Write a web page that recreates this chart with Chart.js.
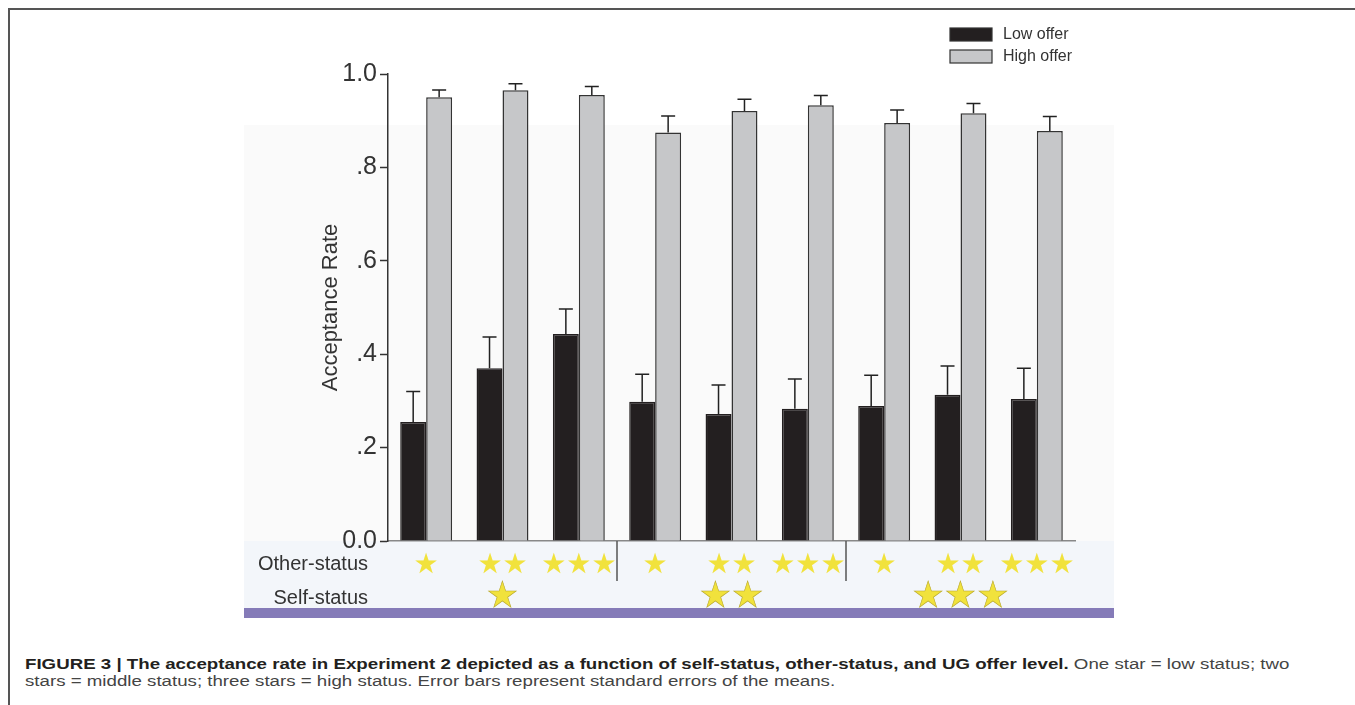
<!DOCTYPE html>
<html>
<head>
<meta charset="utf-8">
<title>Acceptance rate - Experiment 2</title>
<script src="https://cdn.jsdelivr.net/npm/chart.js@4.4.1/dist/chart.umd.min.js"></script>
<style>
    body { margin: 0; background: #ffffff; font-family: "Liberation Sans", Arial, sans-serif; }
    #frame { position: absolute; left: 8px; top: 8px; width: 1347px; height: 697px;
             border-top: 2px solid #555; border-left: 2px solid #555; }
    #chartBox { position: absolute; left: 0; top: 0; width: 1355px; height: 630px; }
    #caption { position: absolute; left: 25px; top: 655px; width: 1320px; white-space: nowrap;
               font-size: 18.7px; line-height: 22px; color: #444;
               transform: scaleY(0.8); transform-origin: left top; }
    #caption b { color: #231f20; }
</style>
</head>
<body>
<div id="frame"></div>
<div id="chartBox"><canvas id="acceptanceChart" width="1355" height="630"></canvas></div>
<div id="caption"><b>FIGURE 3 | The acceptance rate in Experiment 2 depicted as a function of self-status, other-status, and UG offer level.</b> One star = low status; two<br>stars = middle status; three stars = high status. Error bars represent standard errors of the means.</div>

<script>
// status levels (number of stars) for each bar pair
const selfStatus = [1, 1, 1, 2, 2, 2, 3, 3, 3];
const otherStatus = [1, 2, 3, 1, 2, 3, 1, 2, 3];

// mean acceptance rate and standard error per condition
const lowOffer = [0.255, 0.370, 0.443, 0.298, 0.272, 0.283, 0.289, 0.313, 0.304];
const lowOfferSE = [0.065, 0.067, 0.054, 0.059, 0.062, 0.064, 0.066, 0.062, 0.066];
const highOffer = [0.950, 0.965, 0.955, 0.875, 0.921, 0.933, 0.895, 0.916, 0.878];
const highOfferSE = [0.016, 0.014, 0.018, 0.035, 0.025, 0.021, 0.028, 0.021, 0.031];

const yTickLabels = ['0.0', '.2', '.4', '.6', '.8', '1.0'];
const seriesNames = ['Low offer', 'High offer'];

document.addEventListener('DOMContentLoaded', function () {
    const labels = selfStatus.map((s, i) => `Self ${s} / Other ${otherStatus[i]}`);
    const starFont = '"DejaVu Sans", sans-serif';
    const textFont = '"Liberation Sans", Arial, sans-serif';

    // light panels behind the plot and the star rows
    const backgroundPlugin = {
        id: 'panels',
        beforeDraw(chart) {
            const ctx = chart.ctx;
            ctx.save();
            ctx.fillStyle = '#fafafa';
            ctx.fillRect(244, 125, 870, 416);
            ctx.fillStyle = '#f3f6fa';
            ctx.fillRect(244, 541, 870, 67);
            ctx.fillStyle = '#857bb8';
            ctx.fillRect(244, 608, 870, 10);
            ctx.restore();
        }
    };

    // upward error bars with caps
    const errorBarPlugin = {
        id: 'errorBars',
        afterDatasetsDraw(chart) {
            const ctx = chart.ctx;
            const y = chart.scales.y;
            const errors = [lowOfferSE, highOfferSE];
            ctx.save();
            ctx.strokeStyle = '#222';
            ctx.lineWidth = 1.5;
            chart.data.datasets.forEach((ds, d) => {
                chart.getDatasetMeta(d).data.forEach((bar, i) => {
                    const top = y.getPixelForValue(ds.data[i] + errors[d][i]);
                    const base = y.getPixelForValue(ds.data[i]);
                    ctx.beginPath();
                    ctx.moveTo(bar.x, base);
                    ctx.lineTo(bar.x, top);
                    ctx.moveTo(bar.x - 7, top);
                    ctx.lineTo(bar.x + 7, top);
                    ctx.stroke();
                });
            });
            ctx.restore();
        }
    };

    // self-status stars, separators, row names and legend
    const annotationPlugin = {
        id: 'annotations',
        afterDraw(chart) {
            const ctx = chart.ctx;
            const x = chart.scales.x;
            const area = chart.chartArea;
            ctx.save();

            // separators between self-status sets
            ctx.strokeStyle = '#555';
            ctx.lineWidth = 1.5;
            for (let i = 1; i < selfStatus.length; i++) {
                if (selfStatus[i] !== selfStatus[i - 1]) {
                    const sx = (x.getPixelForValue(i - 1) + x.getPixelForValue(i)) / 2;
                    ctx.beginPath();
                    ctx.moveTo(sx, area.bottom);
                    ctx.lineTo(sx, area.bottom + 40);
                    ctx.stroke();
                }
            }

            // one group of big stars under the middle of each set
            ctx.font = `36px ${starFont}`;
            ctx.textAlign = 'center';
            ctx.textBaseline = 'middle';
            ctx.fillStyle = '#f1e23c';
            ctx.strokeStyle = '#b9a92e';
            ctx.lineWidth = 0.6;
            let start = 0;
            for (let i = 1; i <= selfStatus.length; i++) {
                if (i === selfStatus.length || selfStatus[i] !== selfStatus[start]) {
                    const cx = (x.getPixelForValue(start) + x.getPixelForValue(i - 1)) / 2;
                    const stars = '★'.repeat(selfStatus[start]);
                    ctx.fillText(stars, cx, area.bottom + 57);
                    ctx.strokeText(stars, cx, area.bottom + 57);
                    start = i;
                }
            }

            // row names
            ctx.font = `20px ${textFont}`;
            ctx.fillStyle = '#333';
            ctx.textAlign = 'right';
            ctx.fillText('Other-status', 368, area.bottom + 23);
            ctx.fillText('Self-status', 368, area.bottom + 57);

            // legend
            const legendX = 950;
            chart.data.datasets.forEach((ds, d) => {
                const ly = 28 + d * 22;
                ctx.fillStyle = ds.backgroundColor;
                ctx.fillRect(legendX, ly, 42, 13);
                ctx.strokeStyle = '#333';
                ctx.lineWidth = 1.2;
                ctx.strokeRect(legendX, ly, 42, 13);
                ctx.fillStyle = '#333';
                ctx.font = `16px ${textFont}`;
                ctx.textAlign = 'left';
                ctx.fillText(ds.label, legendX + 53, ly + 7);
            });
            ctx.restore();
        }
    };

    const ctx = document.getElementById('acceptanceChart').getContext('2d');
    new Chart(ctx, {
        type: 'bar',
        data: {
            labels: labels,
            datasets: [{
                label: seriesNames[0],
                data: lowOffer,
                backgroundColor: '#231f20',
                borderColor: '#231f20',
                borderWidth: 1.5
            }, {
                label: seriesNames[1],
                data: highOffer,
                backgroundColor: '#c6c7c9',
                borderColor: '#333',
                borderWidth: 1.5
            }]
        },
        options: {
            responsive: false,
            animation: false,
            layout: {
                padding: { left: 318, right: 280, top: 74, bottom: 49 }
            },
            datasets: {
                bar: { categoryPercentage: 0.68, barPercentage: 1.0 }
            },
            plugins: {
                legend: { display: false },
                title: { display: false },
                tooltip: { enabled: false }
            },
            scales: {
                x: {
                    afterFit: (scale) => { scale.height = 40; },
                    grid: { display: false, drawTicks: false },
                    border: { display: true, color: '#888', width: 1.5 },
                    ticks: {
                        padding: 8,
                        autoSkip: false,
                        maxRotation: 0,
                        color: '#f1e23c',
                        font: { family: starFont, size: 28 },
                        callback: (value, index) => '★'.repeat(otherStatus[index])
                    }
                },
                y: {
                    min: 0,
                    max: 1,
                    afterFit: (scale) => { scale.width = 70; },
                    grid: { drawOnChartArea: false, tickLength: 8, color: '#333', tickWidth: 1.5 },
                    border: { display: true, color: '#333', width: 1.5 },
                    ticks: {
                        stepSize: 0.2,
                        padding: 3,
                        color: '#333',
                        font: { family: textFont, size: 25 },
                        callback: (value, index) => yTickLabels[index]
                    },
                    title: {
                        display: true,
                        text: 'Acceptance Rate',
                        color: '#333',
                        font: { family: textFont, size: 22 },
                        padding: 0
                    }
                }
            }
        },
        plugins: [backgroundPlugin, errorBarPlugin, annotationPlugin]
    });
});
</script>
</body>
</html>
